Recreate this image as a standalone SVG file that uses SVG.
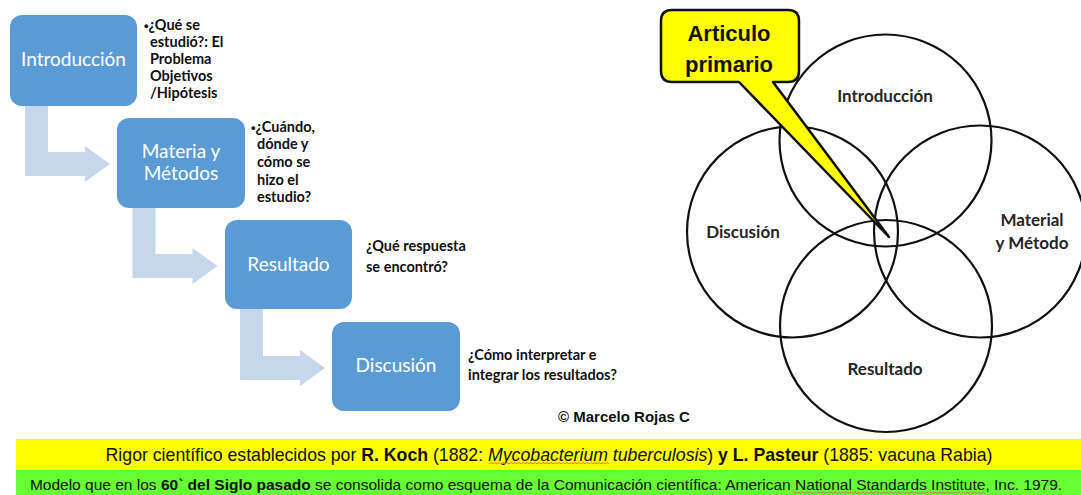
<svg xmlns="http://www.w3.org/2000/svg" width="1081" height="495" viewBox="0 0 1081 495">
<style>
.box{fill:#5B9BD5;}
.arr{fill:#C6D6EB;}
.bt{font-family:Lato,"Open Sans",sans-serif;font-size:19px;fill:#ffffff;text-anchor:middle;}
.st{font-family:Lato,"Open Sans",sans-serif;font-size:14.5px;font-weight:bold;fill:#111111;}
.bul{font-family:"Liberation Sans",Arial,sans-serif;font-size:13px;}
.vc{fill:none;stroke:#111111;stroke-width:2.2;}
.vt{font-family:Lato,"Open Sans",sans-serif;font-size:17px;font-weight:bold;fill:#262626;text-anchor:middle;}
.ct{font-family:"Liberation Sans",Arial,sans-serif;font-size:22px;font-weight:bold;fill:#111111;text-anchor:middle;}
.ft{font-family:"Liberation Sans",Arial,sans-serif;fill:#111111;}
.wave{fill:none;stroke:#E06060;stroke-width:0.9;}
</style>
<rect width="1081" height="495" fill="#ffffff"/>

<g id="connectors">
  <path class="arr" d="M25,106 H48 V152 H85 V146 L110,164 L85,182 V176 H25 Z"/>
  <path class="arr" d="M132.5,207 H155.5 V254 H192.5 V248 L217.5,266 L192.5,284 V278 H132.5 Z"/>
  <path class="arr" d="M240,309 H263 V356 H300 V350 L325,368 L300,386 V380 H240 Z"/>
</g>

<g id="node-introduccion">
  <rect class="box" x="10" y="15" width="127" height="91" rx="12"/>
  <text class="bt" x="73.5" y="66">Introducción</text>
  <text class="st"><tspan x="144" y="30"><tspan class="bul">•</tspan>¿Qué se</tspan><tspan x="150" y="47">estudió?: El</tspan><tspan x="150" y="64">Problema</tspan><tspan x="150" y="81">Objetivos</tspan><tspan x="150" y="98">/Hipótesis</tspan></text>
</g>

<g id="node-materia">
  <rect class="box" x="117" y="118" width="128" height="90" rx="12"/>
  <text class="bt" x="181" y="158">Materia y</text>
  <text class="bt" x="181" y="180">Métodos</text>
  <text class="st"><tspan x="251" y="132"><tspan class="bul">•</tspan>¿Cuándo,</tspan><tspan x="257" y="149">dónde y</tspan><tspan x="257" y="167">cómo se</tspan><tspan x="257" y="185">hizo el</tspan><tspan x="257" y="202">estudio?</tspan></text>
</g>

<g id="node-resultado">
  <rect class="box" x="225" y="220" width="127" height="89" rx="12"/>
  <text class="bt" x="288.5" y="271">Resultado</text>
  <text class="st"><tspan x="366" y="251">¿Qué respuesta</tspan><tspan x="366" y="272">se encontró?</tspan></text>
</g>

<g id="node-discusion">
  <rect class="box" x="332" y="322" width="128" height="89" rx="12"/>
  <text class="bt" x="396" y="372">Discusión</text>
  <text class="st"><tspan x="468" y="360">¿Cómo interpretar e</tspan><tspan x="468" y="380">integrar los resultados?</tspan></text>
</g>

<g id="copyright">
  <text class="ft" x="558" y="422" font-size="15" font-weight="bold">© Marcelo Rojas C</text>
</g>

<g id="venn">
  <circle class="vc" cx="885.5" cy="140.5" r="106"/>
  <circle class="vc" cx="792.5" cy="232" r="105.5"/>
  <circle class="vc" cx="980" cy="231.5" r="106"/>
  <circle class="vc" cx="886" cy="326" r="106"/>
  <text class="vt" x="885" y="102">Introducción</text>
  <text class="vt" x="743" y="238">Discusión</text>
  <text class="vt" x="1032" y="226">Material</text>
  <text class="vt" x="1032" y="249">y Método</text>
  <text class="vt" x="885" y="375">Resultado</text>
</g>

<g id="callout">
  <path d="M672,10 H788 Q799,10 799,21 V71 Q799,82 788,82 H773 L889,237 L739,82 H672 Q661,82 661,71 V21 Q661,10 672,10 Z" fill="#FFFF00" stroke="#111111" stroke-width="2.5" stroke-linejoin="round"/>
  <text class="ct" x="729" y="41">Articulo</text>
  <text class="ct" x="729" y="72">primario</text>
</g>

<g id="footer">
  <rect x="16" y="439" width="1065" height="31" fill="#FFFF00"/>
  <rect x="16" y="470" width="1065" height="25" fill="#66FF33"/>
  <text class="ft" x="549" y="461" font-size="17.7" text-anchor="middle">Rigor científico establecidos por <tspan font-weight="bold">R. Koch</tspan> (1882: <tspan font-style="italic">Mycobacterium tuberculosis</tspan>) <tspan font-weight="bold">y L. Pasteur</tspan> (1885: vacuna Rabia)</text>
  <text class="ft" x="546" y="490" font-size="15.5" text-anchor="middle">Modelo que en los <tspan font-weight="bold">60` del Siglo pasado</tspan> se consolida como esquema de la Comunicación científica: American National Standards Institute, Inc. 1979.</text>
  <path class="wave" d="M489,464 l2,-1.5 l2,1.5 l2,-1.5 l2,1.5 l2,-1.5 l2,1.5 l2,-1.5 l2,1.5 l2,-1.5 l2,1.5 l2,-1.5 l2,1.5 l2,-1.5 l2,1.5 l2,-1.5 l2,1.5 l2,-1.5 l2,1.5 l2,-1.5 l2,1.5 l2,-1.5 l2,1.5 l2,-1.5 l2,1.5 l2,-1.5 l2,1.5 l2,-1.5 l2,1.5 l2,-1.5 l2,1.5 l2,-1.5 l2,1.5 l2,-1.5 l2,1.5 l2,-1.5 l2,1.5 l2,-1.5 l2,1.5 l2,-1.5 l2,1.5 l2,-1.5 l2,1.5 l2,-1.5 l2,1.5 l2,-1.5 l2,1.5 l2,-1.5 l2,1.5 l2,-1.5 l2,1.5 l2,-1.5 l2,1.5 l2,-1.5 l2,1.5 l2,-1.5 l2,1.5 l2,-1.5 l2,1.5 l2,-1.5 l2,1.5"/>
  <path class="wave" d="M793,493.5 l2,-1.5 l2,1.5 l2,-1.5 l2,1.5 l2,-1.5 l2,1.5 l2,-1.5 l2,1.5 l2,-1.5 l2,1.5 l2,-1.5 l2,1.5 l2,-1.5 l2,1.5 l2,-1.5 l2,1.5 l2,-1.5 l2,1.5 l2,-1.5 l2,1.5 l2,-1.5 l2,1.5 l2,-1.5 l2,1.5 l2,-1.5 l2,1.5 l2,-1.5 l2,1.5 l2,-1.5 l2,1.5 l2,-1.5 l2,1.5 l2,-1.5 l2,1.5 l2,-1.5 l2,1.5 l2,-1.5 l2,1.5 l2,-1.5 l2,1.5 l2,-1.5 l2,1.5 l2,-1.5 l2,1.5 l2,-1.5 l2,1.5 l2,-1.5 l2,1.5 l2,-1.5 l2,1.5 l2,-1.5 l2,1.5 l2,-1.5 l2,1.5 l2,-1.5 l2,1.5 l2,-1.5 l2,1.5 l2,-1.5 l2,1.5 l2,-1.5 l2,1.5 l2,-1.5 l2,1.5 l2,-1.5 l2,1.5 l2,-1.5 l2,1.5 l2,-1.5 l2,1.5 l2,-1.5 l2,1.5 l2,-1.5 l2,1.5 l2,-1.5 l2,1.5 l2,-1.5 l2,1.5 l2,-1.5 l2,1.5 l2,-1.5 l2,1.5 l2,-1.5 l2,1.5 l2,-1.5 l2,1.5 l2,-1.5 l2,1.5 l2,-1.5 l2,1.5 l2,-1.5 l2,1.5 l2,-1.5 l2,1.5 l2,-1.5 l2,1.5"/>
</g>
</svg>
